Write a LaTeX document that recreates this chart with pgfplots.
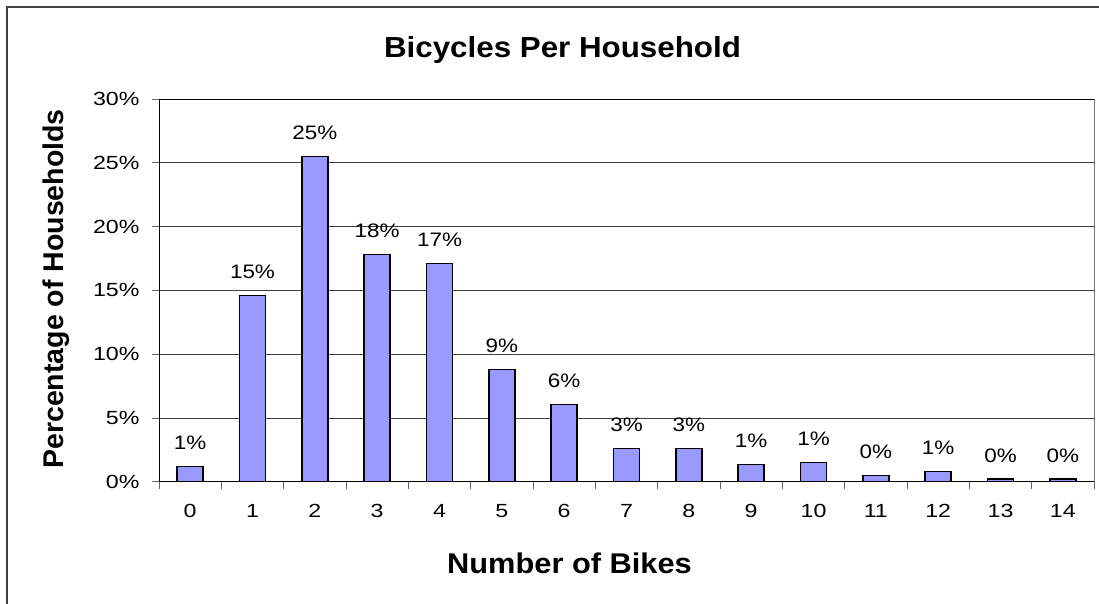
\documentclass[border=0pt]{standalone}
\usepackage{fontspec}
\setmainfont{Liberation Sans}
\newfontfamily\tickfont[FakeStretch=1.22]{Liberation Sans}
\newfontfamily\labfont[FakeStretch=1.15]{Liberation Sans}
\newfontfamily\titfont[FakeStretch=1.08]{Liberation Sans}
\usepackage{pgfplots}
\pgfplotsset{compat=1.18}
\definecolor{barblue}{HTML}{9999FF}
\begin{document}
\begin{tikzpicture}[x=1pt,y=1pt]
\useasboundingbox (0,0) rectangle (1099,604);
\fill[white] (0,0) rectangle (1099,604);
\draw[line width=2pt, black!75] (7,0) -- (7,597) -- (1099,597);
\begin{axis}[
  at={(159pt,122.3pt)}, anchor=south west,
  width=935pt, height=382.7pt, scale only axis,
  xmin=-0.5, xmax=14.5, ymin=0, ymax=30,
  xtick={0,...,14},
  xtick pos=lower, ytick pos=left,
  major x tick style={draw=none},
  minor xtick={-0.5,0.5,...,14.5},
  ytick={0,5,...,30},
  yticklabel={\pgfmathprintnumber{\tick}\%},
  tick align=outside, major tick length=7pt, minor tick length=7pt,
  tick style={black!60, line width=0.8pt},
  ymajorgrids, grid style={black!75, line width=0.8pt},
  axis line style={black, line width=0.9pt},
  /pgf/number format/assume math mode=true,
  ticklabel style={font=\tickfont\fontsize{19}{21}\selectfont},
  yticklabel style={xshift=-9pt},
  xticklabel style={yshift=-12pt},
  ybar, bar width=26pt,
  nodes near coords={\pgfmathprintnumber[fixed,precision=0]{\pgfplotspointmeta}\%},
  every node near coord/.append style={font=\labfont\fontsize{19.5}{21}\selectfont, anchor=base, inner sep=0pt, yshift=17pt, black},
  clip=false,
]
\addplot[fill=barblue, draw=black, line width=1.4pt] coordinates {
 (0,1.18) (1,14.6) (2,25.47) (3,17.82) (4,17.11) (5,8.81) (6,6.03) (7,2.62)
 (8,2.62) (9,1.33) (10,1.49) (11,0.47) (12,0.78) (13,0.2) (14,0.2)};
\draw[black!55, line width=1pt] (rel axis cs:1,0) -- (rel axis cs:1,1);
\end{axis}
\node[anchor=base, font=\titfont\bfseries\fontsize{29}{32}\selectfont, inner sep=0pt] at (562.5,546.7) {Bicycles Per Household};
\node[anchor=base, font=\titfont\bfseries\fontsize{28.5}{32}\selectfont, inner sep=0pt] at (569.5,30.7) {Number of Bikes};
\node[anchor=base, rotate=90, font=\bfseries\fontsize{28.5}{32}\selectfont, inner sep=0pt] at (63.3,315) {Percentage of Households};
\end{tikzpicture}
\end{document}
